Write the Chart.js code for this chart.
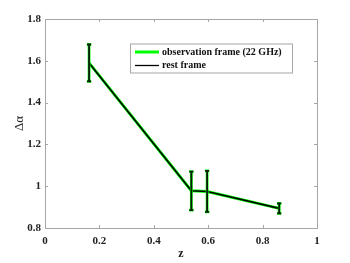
<!DOCTYPE html>
<html>
<head>
<meta charset="utf-8">
<script src="https://cdn.jsdelivr.net/npm/chart.js@4.4.1/dist/chart.umd.min.js"></script>
<style>
  html, body { margin: 0; padding: 0; background: #fff; }
  #wrap { width: 350px; height: 263px; }
</style>
</head>
<body>
<div id="wrap"><canvas id="myChart"></canvas></div>
<script>
'use strict'

// data
const zValues = [0.162, 0.538, 0.596, 0.861]
const deltaAlpha = [1.590, 0.978, 0.975, 0.894]
const deltaAlphaErr = [0.088, 0.092, 0.098, 0.024]
const seriesLabels = ['observation frame (22 GHz)', 'rest frame']
const xTicks = [0, 0.2, 0.4, 0.6, 0.8, 1]
const yTicks = [0.8, 1, 1.2, 1.4, 1.6, 1.8]

const fontFamily = '"Liberation Serif", "Times New Roman", serif'
const boxColor = '#a6a6a6'

function points() {
  return zValues.map((z, i) => ({ x: z, y: deltaAlpha[i] }))
}

// box, inward ticks, error bars, legend
const decor = {
  id: 'decor',
  beforeDatasetsDraw(chart) {
    const { ctx, chartArea: a, scales } = chart
    ctx.save()
    ctx.strokeStyle = boxColor
    ctx.lineWidth = 1
    ctx.strokeRect(Math.round(a.left) + 0.5, Math.round(a.top) + 0.5,
      Math.round(a.right - a.left), Math.round(a.bottom - a.top))
    const len = 3
    ctx.beginPath()
    xTicks.forEach(v => {
      const px = Math.round(scales.x.getPixelForValue(v)) + 0.5
      ctx.moveTo(px, a.bottom); ctx.lineTo(px, a.bottom - len)
      ctx.moveTo(px, a.top); ctx.lineTo(px, a.top + len)
    })
    yTicks.forEach(v => {
      const py = Math.round(scales.y.getPixelForValue(v)) + 0.5
      ctx.moveTo(a.left, py); ctx.lineTo(a.left + len, py)
      ctx.moveTo(a.right, py); ctx.lineTo(a.right - len, py)
    })
    ctx.stroke()
    ctx.restore()
  },
  afterDatasetsDraw(chart) {
    const { ctx, scales } = chart
    ctx.save()
    const bars = (color, width, cap) => {
      ctx.strokeStyle = color
      ctx.lineWidth = width
      ctx.beginPath()
      zValues.forEach((z, i) => {
        const px = scales.x.getPixelForValue(z)
        const top = scales.y.getPixelForValue(deltaAlpha[i] + deltaAlphaErr[i])
        const bot = scales.y.getPixelForValue(deltaAlpha[i] - deltaAlphaErr[i])
        ctx.moveTo(px, top); ctx.lineTo(px, bot)
        ctx.moveTo(px - cap, top); ctx.lineTo(px + cap, top)
        ctx.moveTo(px - cap, bot); ctx.lineTo(px + cap, bot)
      })
      ctx.stroke()
    }
    bars('#00ff00', 2.8, 2.2)
    bars('#0a1a0a', 1.8, 2)

    // legend
    const lx = 130, ly = 43.5, lw = 162, lh = 29
    ctx.fillStyle = '#fff'
    ctx.fillRect(lx, ly, lw, lh)
    ctx.strokeStyle = boxColor
    ctx.lineWidth = 1
    ctx.strokeRect(lx + 0.5, ly + 0.5, lw, lh)
    chart.data.datasets.forEach((ds, i) => {
      const y = ly + 8.5 + i * 13.5
      ctx.strokeStyle = ds.borderColor
      ctx.lineWidth = i === 0 ? 3 : 1.3
      ctx.beginPath()
      ctx.moveTo(lx + 5, y); ctx.lineTo(lx + 29, y)
      ctx.stroke()
      ctx.fillStyle = '#111'
      ctx.font = 'bold 10px ' + fontFamily
      ctx.textBaseline = 'middle'
      ctx.fillText(ds.label, lx + 32, y)
    })
    ctx.restore()
  }
}

const ctx = document.getElementById('myChart')
// eslint-disable-next-line no-unused-vars
const myChart = new Chart(ctx, {
  type: 'scatter',
  data: {
    datasets: [{
      label: seriesLabels[0],
      data: points(),
      showLine: true,
      borderColor: '#00ff00',
      borderWidth: 3,
      pointRadius: 0,
      lineTension: 0,
      order: 2
    }, {
      label: seriesLabels[1],
      data: points(),
      showLine: true,
      borderColor: '#000',
      borderWidth: 1.6,
      pointRadius: 0,
      lineTension: 0,
      order: 1
    }]
  },
  options: {
    responsive: true,
    maintainAspectRatio: false,
    animation: false,
    layout: { padding: { top: 19, right: 33, left: 0, bottom: 0 } },
    scales: {
      x: {
        type: 'linear',
        min: 0,
        max: 1,
        afterBuildTicks: s => { s.ticks = xTicks.map(v => ({ value: v })) },
        afterFit: s => { s.height = 35 },
        grid: { display: false, drawTicks: false },
        border: { display: false },
        ticks: {
          padding: 7,
          color: '#222',
          font: { family: fontFamily, size: 11, weight: 'bold' },
          callback: v => String(v),
          maxRotation: 0
        },
        title: {
          display: true,
          text: 'z',
          color: '#222',
          font: { family: fontFamily, size: 12, weight: 'bold' },
          padding: { top: 0, bottom: 2 }
        }
      },
      y: {
        min: 0.8,
        max: 1.8,
        afterBuildTicks: s => { s.ticks = yTicks.map(v => ({ value: v })) },
        afterFit: s => { s.width = 45 },
        grid: { display: false, drawTicks: false },
        border: { display: false },
        ticks: {
          padding: 4,
          color: '#222',
          font: { family: fontFamily, size: 11, weight: 'bold' },
          callback: v => String(v)
        },
        title: {
          display: true,
          text: 'Δα',
          color: '#222',
          font: { family: fontFamily, size: 13 },
          padding: { top: 12, bottom: 0 }
        }
      }
    },
    plugins: {
      legend: { display: false },
      tooltip: { enabled: false }
    }
  },
  plugins: [decor]
})
</script>
</body>
</html>
